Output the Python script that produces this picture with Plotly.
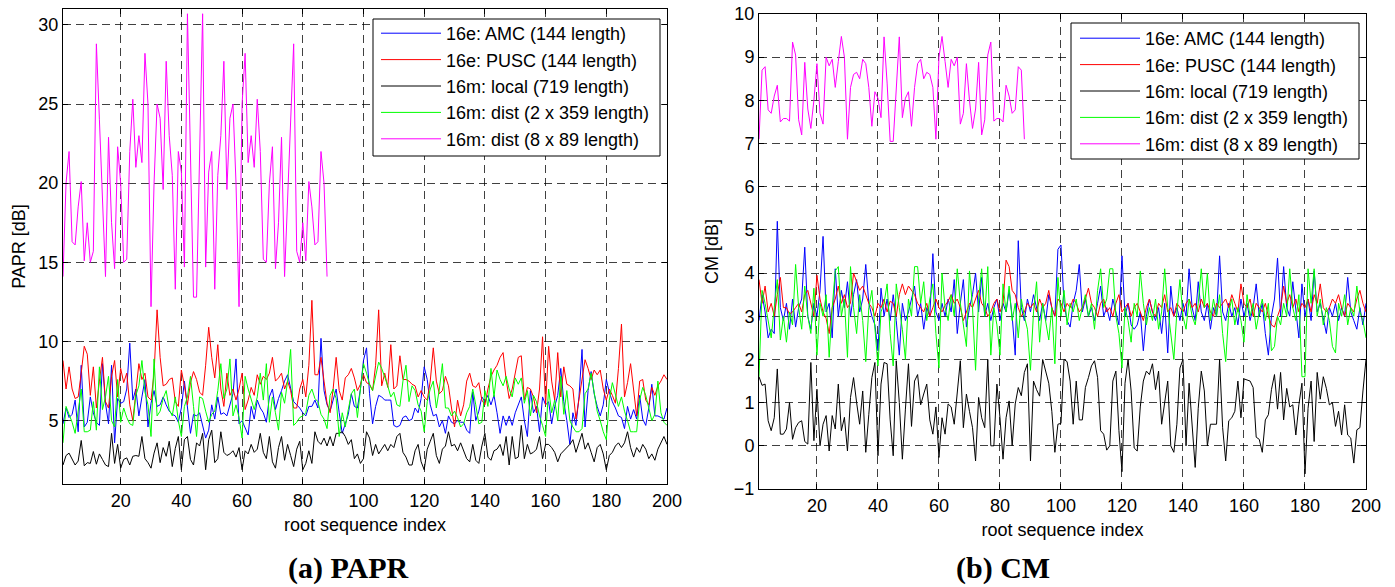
import plotly.graph_objects as go

idx = list(range(1, 201))
idx89 = list(range(1, 89))

names = ["16e: AMC (144 length)", "16e: PUSC (144 length)", "16m: local (719 length)",
         "16m: dist (2 x 359 length)", "16m: dist (8 x 89 length)"]
colors = ["#0000ff", "#ff0000", "#000000", "#00ff00", "#ff00ff"]

# (a) PAPR [dB]
papr_amc = [
    4.8, 5.8, 5.2, 5.4, 6.3, 4.3, 8.5, 4.6, 4.9, 6.5,
    5.5, 4.9, 4.7, 8.6, 6.1, 4.8, 8.5, 3.6, 6.4, 6.1,
    6.2, 7.0, 9.9, 6.3, 7.0, 5.3, 6.5, 7.6, 4.6, 6.1,
    6.9, 5.9, 6.0, 6.5, 6.0, 5.6, 5.4, 5.3, 4.9, 5.8,
    7.5, 5.9, 4.2, 5.4, 5.3, 5.5, 4.6, 3.9, 4.4, 6.0,
    5.1, 6.5, 5.4, 5.5, 5.3, 6.0, 6.7, 8.9, 4.8, 5.0,
    4.5, 4.1, 5.9, 5.1, 6.3, 5.8, 5.5, 4.9, 6.5, 7.0,
    5.7, 6.4, 6.9, 7.5, 7.9, 7.0, 6.2, 6.0, 5.8, 5.5,
    5.3, 5.9, 5.9, 6.3, 5.8, 10.2, 6.9, 6.0, 5.6, 6.3,
    7.0, 5.5, 4.2, 4.8, 5.4, 6.7, 5.9, 5.8, 7.0, 8.8,
    9.6, 6.7, 4.8, 5.9, 6.6, 6.5, 6.3, 6.3, 6.3, 4.7,
    4.6, 4.7, 5.2, 5.3, 5.0, 5.1, 5.8, 5.5, 6.4, 8.4,
    7.6, 6.0, 5.3, 5.4, 4.6, 5.0, 4.2, 5.3, 4.9, 4.8,
    5.0, 4.9, 4.9, 4.4, 4.2, 6.8, 5.0, 5.6, 6.5, 6.2,
    6.6, 6.0, 6.6, 5.5, 4.2, 5.3, 4.7, 5.3, 4.7, 5.5,
    6.0, 6.5, 5.0, 4.0, 6.9, 5.5, 5.9, 4.3, 6.5, 6.0,
    6.2, 4.8, 5.9, 6.6, 8.3, 6.2, 5.0, 3.5, 5.5, 4.7,
    6.5, 9.5, 4.6, 6.9, 8.1, 6.7, 5.9, 5.3, 6.0, 7.6,
    6.8, 6.2, 5.8, 5.3, 5.2, 4.5, 5.9, 5.1, 5.7, 5.1,
    6.6, 5.1, 4.7, 5.8, 7.3, 5.3, 5.3, 5.2, 5.1, 5.8,
]
papr_pusc = [
    8.8, 7.0, 8.4, 7.0, 6.4, 6.5, 8.0, 9.7, 9.2, 6.6,
    8.4, 5.8, 7.5, 9.0, 6.2, 5.8, 7.8, 8.8, 6.5, 8.3,
    7.4, 8.0, 6.0, 5.0, 6.8, 8.6, 7.6, 8.0, 6.5, 6.3,
    8.0, 12.0, 9.0, 7.2, 7.3, 7.6, 7.7, 6.2, 5.9, 8.2,
    7.2, 6.0, 7.4, 8.1, 7.6, 6.8, 6.6, 8.5, 10.9, 9.0,
    7.7, 9.8, 7.0, 5.9, 8.0, 6.6, 7.0, 6.3, 7.0, 8.0,
    5.7, 6.3, 7.1, 6.6, 7.9, 7.3, 7.8, 7.6, 8.0, 9.0,
    7.5, 7.7, 8.0, 7.0, 7.5, 6.9, 5.8, 5.8, 7.0, 7.6,
    6.5, 8.5, 12.6, 7.9, 7.9, 9.0, 7.5, 6.1, 5.5, 7.0,
    9.0, 6.9, 6.3, 7.7, 7.9, 8.3, 7.7, 6.9, 7.3, 7.9,
    7.4, 7.3, 6.9, 8.5, 12.0, 7.2, 8.0, 7.1, 9.8, 7.0,
    7.2, 9.1, 7.6, 7.6, 7.5, 7.3, 7.2, 6.5, 6.9, 6.5,
    6.3, 7.5, 9.6, 7.5, 6.7, 6.9, 7.8, 7.2, 5.8, 4.6,
    6.3, 5.3, 6.0, 7.5, 8.0, 7.2, 7.1, 7.4, 6.3, 6.0,
    7.0, 7.8, 8.2, 8.5, 9.0, 9.3, 7.6, 6.4, 7.0, 8.0,
    9.0, 9.1, 6.3, 7.1, 7.0, 6.5, 5.5, 7.0, 10.3, 6.0,
    9.7, 7.5, 6.3, 9.3, 6.5, 8.4, 7.3, 7.2, 7.0, 5.1,
    6.3, 7.5, 8.85, 8.3, 7.6, 8.2, 7.9, 8.2, 7.0, 6.3,
    7.0, 6.6, 6.1, 8.3, 11.1, 6.5, 7.4, 8.6, 7.0, 5.3,
    7.5, 7.6, 6.3, 6.0, 7.1, 6.6, 7.2, 7.5, 7.9, 7.6,
]
papr_local = [
    2.2, 2.8, 2.95, 2.55, 2.2, 2.45, 3.75, 2.15, 2.35, 2.3,
    3.05, 2.25, 2.9, 2.55, 2.2, 2.1, 4.2, 2.3, 3.5, 2.0,
    2.55, 2.65, 2.2, 2.75, 2.8, 2.75, 4.0, 2.6, 2.35, 2.0,
    2.95, 3.6, 2.35, 3.3, 2.75, 3.7, 2.1, 3.25, 4.0, 1.9,
    3.8, 4.0, 2.55, 2.2, 3.6, 3.4, 4.2, 1.9, 3.8, 4.4,
    2.35, 2.6, 4.3, 3.0, 2.8, 2.9, 3.1, 2.7, 3.3, 1.9,
    3.1, 2.9, 3.5, 3.0, 3.2, 4.2, 3.0, 2.6, 4.0, 2.4,
    2.0, 3.3, 4.0, 2.5, 3.5, 2.8, 2.1, 3.2, 3.7, 1.9,
    2.3, 3.1, 2.3, 4.3, 3.7, 3.5, 3.9, 3.4, 4.0, 3.4,
    4.2, 4.2, 4.3, 4.0, 3.5, 3.8, 2.6, 2.9, 2.3, 2.6,
    4.3, 3.9, 2.8, 3.5, 2.9, 3.2, 3.5, 3.1, 3.5, 3.3,
    4.0, 4.2, 3.0, 2.7, 2.2, 2.2, 3.1, 3.5, 2.4, 1.9,
    3.2, 3.7, 4.2, 2.8, 2.3, 3.2, 3.4, 4.3, 3.4, 3.5,
    3.1, 3.6, 3.1, 2.6, 2.4, 3.5, 2.5, 2.3, 3.4, 4.2,
    2.7, 2.5, 3.1, 3.2, 3.5, 2.8, 4.0, 2.2, 4.0, 2.6,
    2.7, 4.7, 2.6, 3.5, 2.9, 3.0, 3.2, 4.0, 2.6, 3.5,
    3.5, 3.3, 3.0, 2.4, 2.9, 3.1, 3.3, 3.5, 3.8, 3.0,
    3.6, 4.2, 3.2, 3.6, 3.0, 2.4, 3.3, 3.5, 2.9, 1.9,
    2.8, 3.0, 3.4, 3.6, 3.3, 3.6, 4.3, 3.3, 2.7, 3.3,
    3.0, 3.5, 3.2, 2.6, 2.9, 2.5, 3.2, 3.6, 4.0, 3.5,
]
papr_dist2 = [
    3.6, 5.9, 5.4, 4.9, 4.2, 5.8, 7.0, 4.3, 4.3, 4.4,
    6.2, 4.4, 8.4, 5.7, 6.5, 7.8, 5.0, 4.6, 7.6, 4.9,
    5.8, 5.2, 4.8, 4.7, 6.6, 7.2, 8.8, 6.8, 6.0, 4.0,
    8.9, 5.3, 5.6, 6.4, 6.9, 5.7, 5.3, 6.5, 5.0, 4.0,
    5.9, 6.5, 7.8, 5.9, 4.0, 6.5, 6.4, 5.6, 4.9, 5.4,
    5.6, 6.9, 8.6, 6.4, 7.0, 8.9, 5.3, 6.0, 5.2, 3.9,
    7.8, 7.0, 6.3, 5.7, 6.5, 8.0, 6.3, 8.6, 4.9, 6.5,
    5.5, 4.4, 6.8, 6.1, 7.5, 9.5, 4.7, 4.9, 5.2, 5.3,
    5.5, 6.6, 7.0, 6.4, 6.2, 5.4, 5.1, 4.5, 6.6, 7.0,
    6.4, 4.0, 5.5, 4.6, 5.7, 6.7, 7.0, 5.2, 7.0, 8.6,
    8.0, 7.3, 6.9, 7.7, 8.7, 8.3, 7.8, 7.2, 6.5, 6.8,
    6.0, 5.9, 7.5, 8.5, 6.2, 7.2, 6.9, 6.0, 5.6, 4.3,
    6.2, 7.0, 7.5, 5.8, 7.0, 8.6, 5.8, 5.8, 5.3, 5.6,
    5.2, 4.6, 4.8, 5.5, 5.9, 7.0, 6.0, 4.8, 4.9, 6.9,
    5.9, 8.3, 6.5, 8.2, 7.6, 7.2, 7.8, 7.0, 6.5, 7.7,
    7.3, 7.7, 6.1, 6.9, 5.3, 6.6, 6.2, 5.3, 4.7, 4.0,
    7.0, 5.5, 6.3, 5.0, 7.8, 5.4, 6.9, 5.0, 4.6, 4.3,
    4.3, 4.5, 6.7, 7.0, 8.0, 6.8, 5.6, 5.0, 4.3, 3.8,
    6.3, 7.4, 6.7, 5.9, 6.5, 5.6, 5.0, 4.3, 4.3, 4.3,
    6.3, 7.1, 6.6, 5.8, 5.0, 5.4, 7.5, 5.5, 4.9, 4.7,
]
papr_dist8 = [
    14.1, 20.0, 22.0, 16.3, 16.1, 18.5, 20.1, 15.1, 17.5, 15.0,
    15.7, 28.8, 24.0, 19.0, 14.1, 22.9, 17.5, 14.6, 22.3, 20.0,
    15.0, 15.2, 22.0, 25.3, 21.0, 23.0, 21.3, 28.2, 25.0, 12.2,
    20.0, 25.0, 24.1, 19.6, 27.7, 23.0, 20.5, 13.3, 22.0, 20.7,
    14.7, 30.7, 21.0, 12.8, 12.8, 21.0, 30.7, 14.7, 20.7, 22.0,
    13.3, 20.5, 23.0, 27.7, 19.6, 24.1, 25.0, 20.0, 12.2, 25.0,
    28.2, 21.3, 23.0, 21.0, 25.3, 22.0, 15.2, 15.0, 20.0, 22.3,
    14.6, 17.5, 22.9, 14.1, 19.0, 24.0, 28.8, 15.7, 15.0, 17.5,
    15.1, 20.1, 18.5, 16.1, 16.3, 22.0, 20.0, 14.1,
]

# (b) CM [dB]
cm_amc = [
    2.9, 3.5, 3.1, 2.5, 2.7, 2.6, 5.2, 3.2, 2.9, 3.3,
    2.7, 3.4, 2.75, 3.2, 3.4, 4.6, 3.0, 2.7, 3.3, 3.0,
    3.6, 4.85, 3.1, 3.3, 2.5, 4.1, 3.0, 3.6, 3.2, 3.8,
    3.0, 3.5, 3.85, 3.1, 3.4, 4.2, 3.3, 3.0, 2.8, 2.2,
    3.65, 3.0, 3.4, 2.9, 3.5, 2.9, 2.1, 3.3, 2.9, 3.1,
    3.4, 3.7, 3.0, 3.3, 2.7, 3.2, 3.0, 4.45, 3.1, 2.9,
    3.3, 3.0, 3.4, 3.1, 3.85, 2.6, 3.3, 3.85, 2.75, 3.2,
    3.5, 4.0, 3.1, 3.9, 3.0, 3.3, 2.9, 3.2, 3.4, 2.9,
    3.3, 3.1, 3.6, 3.0, 2.1, 4.75, 3.2, 2.9, 3.4, 3.1,
    3.5, 3.2, 2.9, 3.3, 2.9, 3.5, 3.2, 3.0, 4.55, 4.65,
    3.3, 2.9, 2.75, 3.3, 3.6, 4.2, 3.1, 3.4, 3.0, 3.2,
    2.9, 3.3, 3.7, 3.0, 3.2, 2.9, 3.4, 3.1, 2.8, 4.4,
    3.0, 3.3, 2.8, 2.7, 2.8, 3.1, 2.2, 3.0, 3.4, 3.1,
    2.9, 3.2, 2.6, 3.3, 2.15, 3.7, 3.0, 3.2, 2.9, 3.3,
    3.0, 4.1, 3.2, 2.9, 3.8, 3.1, 2.9, 3.3, 2.7, 3.2,
    3.0, 4.4, 3.1, 2.9, 3.3, 3.0, 3.2, 2.8, 3.4, 3.0,
    3.3, 2.9, 3.2, 3.75, 3.0, 3.3, 2.6, 2.1, 3.0, 3.4,
    4.35, 3.0, 4.15, 3.2, 3.0, 3.8, 3.1, 2.5, 3.75, 3.0,
    3.4, 2.9, 4.05, 3.1, 3.3, 2.9, 2.6, 3.2, 3.0, 3.3,
    2.9, 3.2, 3.0, 3.9, 3.1, 2.9, 2.7, 3.2, 2.8, 3.3,
]
cm_pusc = [
    3.85, 3.3, 3.7, 3.1, 3.3, 3.0, 3.5, 3.9, 3.2, 3.2,
    3.05, 3.1, 3.2, 3.3, 3.1, 3.5, 3.6, 3.3, 3.0, 3.95,
    3.4, 3.1, 2.95, 2.6, 3.2, 3.4, 3.7, 3.3, 3.5, 3.2,
    3.3, 4.0, 3.8, 3.6, 3.7, 3.5, 3.3, 3.2, 3.0, 3.3,
    3.2, 3.4, 3.1, 3.35, 3.3, 3.0, 3.5, 3.75, 3.5, 3.7,
    3.6, 3.5, 3.3, 3.2, 3.1, 3.3, 3.0, 3.2, 3.4, 3.2,
    3.1, 3.25, 3.35, 3.5, 3.3, 3.4, 3.2, 2.9, 3.1, 3.3,
    3.2, 3.4, 3.6, 3.3, 3.2, 3.0, 3.1, 3.3, 3.4, 3.1,
    3.3, 4.3, 4.15, 3.6, 3.5, 3.2, 3.0, 3.1, 3.3, 3.2,
    3.3, 3.1, 3.4, 3.2, 3.3, 3.6, 3.2, 3.0, 3.4, 3.3,
    3.1, 3.3, 3.2, 3.4, 3.3, 3.1, 3.2, 3.4, 3.65, 3.3,
    3.2, 3.0, 3.3, 3.4, 3.1, 3.2, 3.0, 3.3, 3.5, 3.1,
    3.2, 3.3, 3.0, 3.2, 3.3, 3.1, 2.9, 3.2, 3.4, 3.1,
    3.0, 3.3, 3.2, 3.5, 3.1, 3.2, 3.0, 3.3, 3.2, 3.1,
    3.3, 3.4, 3.2, 3.3, 3.1, 3.4, 3.2, 3.3, 3.1, 3.0,
    3.3, 3.2, 3.3, 3.4, 3.2, 3.5, 3.3, 3.1, 3.75, 3.3,
    3.2, 3.4, 3.0, 3.3, 3.2, 3.1, 3.3, 3.0, 2.8, 2.75,
    3.0, 3.2, 3.7, 3.3, 3.5, 3.2, 3.4, 3.1, 3.3, 3.2,
    3.4, 3.1, 3.5, 3.3, 3.75, 3.2, 3.1, 3.2, 3.4, 3.3,
    3.5, 3.2, 3.0, 3.3, 3.2, 3.1, 3.4, 3.6, 3.3, 3.1,
]
cm_local = [
    1.6, 1.4, 1.43, 0.58, 0.35, 0.65, 1.78, 0.27, 0.27, 0.39,
    1.0, 0.15, 0.42, 0.54, 0.58, 0.1, 0.04, 1.93, 0.12, 1.31,
    0.0, 0.5, 0.7, -0.12, 0.7, 0.39, 1.43, 0.35, 0.66, -0.12,
    1.12, 1.58, 1.0, 0.5, 1.27, -0.15, 0.73, 1.58, 1.93, -0.23,
    1.43, 1.93, 1.9, 0.6, -0.23, 1.97, 1.0, -0.31, 0.85, 1.9,
    0.45, 1.5, 1.65, 0.95, 1.2, 1.43, 0.6, 0.27, 0.9, -0.27,
    0.65, 0.27, 0.97, 0.9, 0.5, 1.27, 1.97, 0.42, 1.2, 0.8,
    0.42, -0.35, 1.12, 0.65, 0.42, 2.0, 0.0, 0.0, 1.43, 0.65,
    -0.31, 0.65, 1.04, 0.0, 0.97, 1.35, 1.16, 1.7, 1.9, -0.35,
    1.5, 1.3, 1.15, 2.0, 1.7, 1.45, 0.8, -0.15, 0.5, 0.52,
    2.0, 1.95, 1.5, 0.5, 1.5, 0.6, 0.6, 1.35, 1.58, 1.85,
    1.97, 1.58, 0.35, 0.27, -0.1, 0.0, 1.5, 1.73, 0.35, -0.6,
    1.45, 2.0, 1.27, -0.05, -0.12, 0.9, 1.5, 1.73, 1.65, 1.9,
    1.3, 1.73, 0.5, 1.05, 1.5, 0.0, -0.15, 0.5, 1.8, 2.0,
    0.0, 1.45, 0.55, -0.5, 0.87, 1.73, 1.27, 0.0, 0.5, 0.5,
    0.5, 2.0, 0.42, -0.35, 0.58, 0.65, 0.8, 1.5, 0.65, 1.55,
    1.52, 1.5, 1.35, 0.2, 0.15, -0.15, 0.6, 0.72, 1.3, 1.65,
    0.85, 1.7, 0.6, 1.33, 0.9, 0.95, 0.25, 0.95, 1.45, -0.65,
    0.87, 1.5, 0.1, 1.7, 1.08, 1.6, 1.33, 0.95, 1.0, 0.45,
    0.8, 0.25, 0.95, 0.25, 0.18, -0.4, 0.37, 0.42, 1.27, 2.0,
]
cm_dist2 = [
    1.6, 3.6, 3.3, 2.9, 2.5, 3.2, 3.85, 2.45, 3.0, 2.4,
    3.1, 2.8, 4.2, 3.2, 2.7, 3.7, 3.0, 2.6, 3.65, 2.1,
    3.3, 3.0, 3.5, 2.05, 3.2, 4.05, 4.15, 3.0, 3.4, 2.05,
    4.15, 3.2, 2.6, 3.5, 2.9, 1.95, 3.2, 3.6, 2.8, 1.85,
    3.1, 3.3, 3.75, 2.6, 1.85, 3.75, 3.2, 2.7, 2.0, 3.4,
    3.0, 4.15, 4.15, 3.3, 3.8, 2.9, 3.4, 3.75, 2.6, 1.8,
    4.0, 3.2, 2.9, 3.5, 3.0, 4.1, 3.3, 2.8, 2.3, 4.05,
    3.2, 1.75, 3.4, 4.1, 3.0, 4.15, 2.1, 3.2, 2.8, 2.1,
    3.75, 3.1, 3.7, 2.9, 3.3, 2.5, 3.4, 3.0, 2.7, 1.75,
    3.1, 3.8, 2.4, 3.3, 2.9, 2.45, 3.2, 1.9, 3.9, 3.0,
    3.6, 2.8, 3.3, 3.1, 3.4, 2.9, 3.2, 3.5, 3.0, 3.3,
    2.7, 3.6, 4.1, 3.2, 3.4, 4.1, 4.1, 3.0, 2.6, 1.8,
    3.2, 2.9, 2.4, 3.3, 3.0, 4.05, 3.3, 2.8, 3.2, 2.9,
    3.4, 2.7, 3.1, 4.1, 3.2, 2.6, 2.0, 3.1, 3.85, 3.0,
    2.7, 3.4, 3.0, 2.8, 3.3, 4.1, 3.2, 4.0, 2.9, 3.4,
    3.0, 3.5, 2.6, 1.95, 3.1, 3.4, 2.8, 3.2, 2.9, 2.4,
    3.5, 3.0, 3.3, 2.7, 3.1, 3.4, 2.9, 3.3, 2.2, 2.3,
    3.0, 2.8, 3.3, 3.0, 4.1, 3.2, 2.9, 3.5, 1.6, 1.6,
    4.1, 3.3, 4.1, 3.0, 3.4, 2.8, 3.2, 2.9, 2.3, 2.15,
    3.3, 3.0, 3.5, 2.8, 3.2, 3.0, 3.7, 3.1, 2.9, 2.5,
]
cm_dist8 = [
    7.1, 8.7, 8.78, 7.78, 7.7, 8.1, 8.35, 7.5, 7.58, 7.58,
    7.52, 9.35, 9.05, 7.55, 7.2, 8.88, 7.8, 7.35, 8.0, 8.85,
    7.7, 7.45, 9.0, 8.8, 8.95, 8.3, 8.9, 9.48, 9.0, 7.1,
    8.3, 8.6, 8.65, 8.5, 8.95, 8.85, 8.3, 7.4, 8.2, 8.05,
    7.6, 9.47, 8.4, 7.05, 7.05, 8.4, 9.47, 7.6, 8.05, 8.2,
    7.4, 8.3, 8.85, 8.95, 8.5, 8.65, 8.6, 8.3, 7.1, 9.0,
    9.48, 8.9, 8.3, 8.95, 8.8, 9.0, 7.45, 7.7, 8.85, 8.0,
    7.35, 7.8, 8.88, 7.2, 7.55, 9.05, 9.35, 7.52, 7.58, 7.58,
    7.5, 8.35, 8.1, 7.7, 7.78, 8.78, 8.7, 7.1,
]

papr_series = [papr_amc, papr_pusc, papr_local, papr_dist2, papr_dist8]
cm_series = [cm_amc, cm_pusc, cm_local, cm_dist2, cm_dist8]

fig = go.Figure()
for k in range(5):
    xs = idx89 if k == 4 else idx
    fig.add_trace(go.Scatter(x=xs, y=papr_series[k], mode="lines", name=names[k],
                             line=dict(color=colors[k], width=1),
                             xaxis="x", yaxis="y", legend="legend"))
for k in range(5):
    xs = idx89 if k == 4 else idx
    fig.add_trace(go.Scatter(x=xs, y=cm_series[k], mode="lines", name=names[k],
                             line=dict(color=colors[k], width=1),
                             xaxis="x2", yaxis="y2", legend="legend2"))

W, H = 1395, 587
font = dict(family="Arial, Liberation Sans, sans-serif", size=18, color="black")
serif = dict(family="Times New Roman, Liberation Serif, serif", size=30, color="black")

def ax(**kw):
    d = dict(showline=True, linecolor="black", linewidth=1, mirror="ticks",
             ticks="inside", ticklen=5, tickcolor="black", automargin=False,
             showgrid=True, gridcolor="rgba(0,0,0,0.75)", griddash="8px,5px", gridwidth=1,
             zeroline=False, tickfont=font)
    d.update(kw)
    return d

# legend boxes drawn as shapes at the reference spot, legend text sits on top
legend_style = dict(bgcolor="rgba(0,0,0,0)", borderwidth=0, font=font,
                    xanchor="left", yanchor="top", itemwidth=60, tracegroupgap=0)

def box(x0, y0, x1, y1):
    return dict(type="rect", xref="paper", yref="paper", layer="above",
                x0=x0 / W, x1=x1 / W, y0=1 - y1 / H, y1=1 - y0 / H,
                fillcolor="white", line=dict(color="black", width=1))

fig.update_layout(
    width=W, height=H, autosize=False,
    margin=dict(l=0, r=0, t=0, b=0, pad=0),
    paper_bgcolor="white", plot_bgcolor="white",
    showlegend=True,
    xaxis=ax(domain=[63 / W, 667 / W], range=[1, 200], tickvals=list(range(20, 201, 20)),
             title=dict(text="root sequence index", font=font, standoff=8), anchor="y"),
    yaxis=ax(domain=[1 - 484 / H, 1 - 9 / H], range=[1, 31], tickvals=[5, 10, 15, 20, 25, 30],
             title=dict(text="PAPR [dB]", font=font, standoff=8), anchor="x"),
    xaxis2=ax(domain=[759 / W, 1366 / W], range=[1, 200], tickvals=list(range(20, 201, 20)),
              title=dict(text="root sequence index", font=font, standoff=8), anchor="y2"),
    yaxis2=ax(domain=[1 - 489 / H, 1 - 14 / H], range=[-1, 10], tickvals=list(range(-1, 11)),
              title=dict(text="CM [dB]", font=font, standoff=10), anchor="x2"),
    legend=dict(legend_style, x=376 / W, y=1 - 15 / H),
    legend2=dict(legend_style, x=1075 / W, y=1 - 20 / H),
    shapes=[box(373, 19, 660, 156), box(1071, 23, 1359, 159)],
    annotations=[
        dict(text="<b>(a) PAPR</b>", x=348 / W, y=1 - 568 / H, xref="paper", yref="paper",
             xanchor="center", yanchor="middle", showarrow=False, font=serif),
        dict(text="<b>(b) CM</b>", x=1003 / W, y=1 - 568 / H, xref="paper", yref="paper",
             xanchor="center", yanchor="middle", showarrow=False, font=serif),
    ],
)

fig.write_html("out.html", config={"displayModeBar": False},
               post_script="document.body.style.margin='0';document.body.style.overflow='hidden';")
